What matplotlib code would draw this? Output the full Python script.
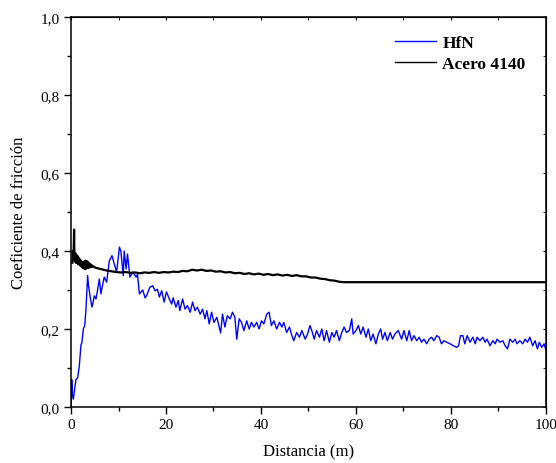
import matplotlib
matplotlib.use("Agg")
import matplotlib.pyplot as plt
from matplotlib.ticker import MultipleLocator, FuncFormatter

plt.rcParams['font.family'] = ['Liberation Serif', 'DejaVu Serif']

# HfN (blue)
hfn_x = [0.05, 0.15, 0.3, 0.5, 0.8, 1.05, 1.4, 1.75, 2.1, 2.3, 2.6, 2.9, 3.15, 3.35, 3.5, 3.7,
         4.0, 4.4, 4.6, 4.9, 5.26, 5.6, 5.96, 6.3, 6.6, 7.0, 7.5, 8.07, 8.63, 9.1, 9.6, 10.2,
         10.5, 11.0, 11.2, 11.6, 11.9, 12.4, 13.0, 13.7, 14.0, 14.4, 15.1, 15.6, 15.9, 16.6,
         17.2, 17.7, 18.2, 18.6, 19.1, 19.6, 20.1, 20.7, 21.2, 21.5, 22.1, 22.6, 22.9, 23.5,
         24.0, 24.5, 25.1, 25.6, 26.1, 26.6, 27.2, 27.7, 28.2, 28.6, 29.1, 29.6, 30.1, 30.7,
         31.2, 31.5, 31.9, 32.4, 32.9, 33.5, 34.0, 34.5, 34.9, 35.4, 35.9, 36.4, 37.0, 37.5,
         38.0, 38.5, 39.1, 39.6, 40.1, 40.6, 41.2, 41.7, 42.2, 42.7, 43.3, 43.9, 44.4, 44.8,
         45.4, 46.0, 46.5, 46.9, 47.5, 48.1, 48.6, 49.3, 49.8, 50.3, 50.7, 51.2, 51.7, 52.3,
         52.8, 53.3, 53.8, 54.4, 54.9, 55.4, 55.9, 56.5, 57.0, 57.5, 58.0, 58.6, 59.1, 59.4,
         60.0, 60.5, 61.0, 61.5, 62.1, 62.6, 63.1, 63.6, 64.2, 64.7, 65.2, 65.6, 66.1, 66.6,
         67.2, 67.7, 68.2, 68.9, 69.6, 70.1, 70.7, 71.2, 71.7, 72.2, 72.8, 73.3, 73.8, 74.3,
         74.9, 75.4, 75.9, 76.4, 77.0, 77.5, 78.0, 78.5, 79.1, 79.8, 80.5, 81.2, 81.6, 82.0,
         82.5, 82.9, 83.4, 84.0, 84.6, 85.1, 85.5, 86.1, 86.7, 87.2, 87.6, 88.2, 88.8, 89.3,
         89.7, 90.3, 90.9, 91.4, 91.9, 92.4, 93.0, 93.5, 93.9, 94.5, 95.1, 95.6, 96.1, 96.6,
         97.2, 97.7, 98.2, 98.6, 99.1, 99.6, 100.0]
hfn_y = [0.0, 0.07, 0.03, 0.02, 0.05, 0.07, 0.075, 0.105, 0.16, 0.165, 0.2, 0.21, 0.25, 0.30, 0.337, 0.31,
         0.285, 0.256, 0.265, 0.285, 0.277, 0.30, 0.328, 0.29, 0.31, 0.333, 0.32, 0.375, 0.388, 0.367, 0.346, 0.41,
         0.40, 0.337, 0.40, 0.354, 0.392, 0.333, 0.346, 0.333, 0.34, 0.29, 0.30, 0.28, 0.285, 0.307,
         0.311, 0.298, 0.302, 0.282, 0.298, 0.269, 0.295, 0.277, 0.264, 0.28, 0.256, 0.273, 0.247, 0.277,
         0.251, 0.26, 0.243, 0.269, 0.247, 0.256, 0.238, 0.251, 0.226, 0.247, 0.213, 0.243, 0.217, 0.23,
         0.205, 0.19, 0.238, 0.205, 0.234, 0.226, 0.243, 0.23, 0.174, 0.226, 0.217, 0.196, 0.221, 0.2,
         0.217, 0.205, 0.217, 0.2, 0.221, 0.213, 0.238, 0.243, 0.209, 0.221, 0.2, 0.217, 0.205, 0.217,
         0.191, 0.205, 0.183, 0.17, 0.191, 0.179, 0.196, 0.174, 0.187, 0.209, 0.196, 0.174, 0.196, 0.179,
         0.2, 0.17, 0.196, 0.166, 0.191, 0.179, 0.196, 0.17, 0.191, 0.205, 0.191, 0.196, 0.226, 0.187,
         0.196, 0.209, 0.187, 0.205, 0.179, 0.2, 0.17, 0.187, 0.162, 0.187, 0.2, 0.174, 0.191, 0.17,
         0.191, 0.174, 0.187, 0.196, 0.174, 0.196, 0.17, 0.196, 0.17, 0.183, 0.17, 0.179, 0.166, 0.174,
         0.162, 0.174, 0.179, 0.17, 0.183, 0.179, 0.162, 0.17, 0.166, 0.162, 0.157, 0.153, 0.157, 0.183,
         0.183, 0.162, 0.183, 0.166, 0.179, 0.162, 0.179, 0.17, 0.179, 0.166, 0.174, 0.157, 0.17, 0.162,
         0.174, 0.166, 0.17, 0.157, 0.149, 0.174, 0.166, 0.174, 0.162, 0.17, 0.162, 0.174, 0.166, 0.179,
         0.157, 0.17, 0.149, 0.166, 0.153, 0.162, 0.145]

# Acero 4140 (black)
acero_x = [0.3, 0.4, 0.5, 0.6, 0.65, 0.7, 0.8, 0.9, 1.0, 1.1, 1.2, 1.3, 1.4, 1.5, 1.6, 1.7,
           1.8, 1.9, 2.0, 2.1, 2.2, 2.3, 2.4, 2.5, 2.6, 2.7, 2.8, 2.9, 3.0, 3.1, 3.2, 3.3,
           3.4, 3.5, 3.6, 3.7, 3.8, 3.9, 4.0, 4.1, 4.2, 4.3, 4.4, 4.5, 4.6, 4.8, 5.0,
           5.5, 6.5, 7.5, 8.5, 9.5, 10.5, 11.5, 12.5, 13.5, 14.5, 15.5, 16.5, 17.5, 18.5,
           19.5, 20.5, 21.5, 22.5, 23.5, 24.5, 25.5, 26.5, 27.5, 28.5, 29.5, 30.5, 31.5,
           32.5, 33.5, 34.5, 35.5, 36.5, 37.5, 38.5, 39.5, 40.5, 41.5, 42.5, 43.5, 44.5,
           45.5, 46.5, 47.5, 48.5, 49.5, 50.5, 51.5, 52.5, 53.5, 54.5, 55.5, 56.5, 57.5,
           60, 70, 80, 90, 100]
acero_y = [0.37, 0.40, 0.38, 0.42, 0.455, 0.40, 0.375, 0.395, 0.37, 0.39, 0.372, 0.388, 0.368, 0.385, 0.366, 0.38,
           0.365, 0.378, 0.362, 0.375, 0.36, 0.372, 0.358, 0.37, 0.356, 0.372, 0.355, 0.374, 0.354, 0.375, 0.355, 0.374,
           0.356, 0.372, 0.357, 0.37, 0.358, 0.368, 0.358, 0.366, 0.359, 0.364, 0.36, 0.362, 0.36, 0.36, 0.358,
           0.356, 0.353, 0.350, 0.348, 0.346, 0.345, 0.346, 0.344, 0.345, 0.343, 0.345, 0.344, 0.346, 0.344,
           0.346, 0.345, 0.347, 0.346, 0.349, 0.348, 0.352, 0.350, 0.352, 0.349, 0.350, 0.347, 0.348,
           0.345, 0.346, 0.343, 0.344, 0.341, 0.343, 0.340, 0.342, 0.339, 0.341, 0.338, 0.340, 0.337,
           0.339, 0.336, 0.338, 0.335, 0.335, 0.332, 0.332, 0.329, 0.328, 0.325, 0.324, 0.321, 0.320,
           0.320, 0.320, 0.320, 0.320, 0.320]

fig = plt.figure(figsize=(5.56, 4.64), dpi=100)
ax = fig.add_axes([0.1277, 0.1207, 0.8543, 0.8405])

ax.plot(hfn_x, hfn_y, color='#0000ff', lw=1.0, label='HfN')
ax.plot(acero_x, acero_y, color='black', lw=1.6, label='Acero 4140')

ax.set_xlim(0, 100)
ax.set_ylim(0, 1.0)
ax.xaxis.set_major_locator(MultipleLocator(20))
ax.xaxis.set_minor_locator(MultipleLocator(10))
ax.yaxis.set_major_locator(MultipleLocator(0.2))
ax.yaxis.set_minor_locator(MultipleLocator(0.1))
ax.yaxis.set_major_formatter(FuncFormatter(lambda v, p: ('%.1f' % v).replace('.', ',')))
ax.tick_params(which='major', direction='out', length=5, width=1.0, labelsize=11, pad=3)
ax.tick_params(which='minor', direction='out', length=3, width=1.0)
for s in ax.spines.values():
    s.set_linewidth(1.1)

top = ax.secondary_xaxis('top')
top.xaxis.set_major_locator(MultipleLocator(20))
top.xaxis.set_minor_locator(MultipleLocator(10))
top.tick_params(which='both', direction='in', length=2.5, labeltop=False)
right = ax.secondary_yaxis('right')
right.yaxis.set_major_locator(MultipleLocator(0.2))
right.yaxis.set_minor_locator(MultipleLocator(0.1))
right.tick_params(which='both', direction='in', length=2.5, labelright=False)

ax.set_xlabel('Distancia (m)', fontsize=12, labelpad=9)
ax.set_ylabel('Coeficiente de fricción', fontsize=12, labelpad=10)

leg = ax.legend(loc='upper right', bbox_to_anchor=(0.99, 0.995), frameon=False,
                handlelength=2.4, handletextpad=0.35, labelspacing=0.3,
                prop={'weight': 'bold', 'size': 12.5})
for l in leg.get_lines():
    l.set_linewidth(1.0)

fig.savefig('out.png', dpi=100)
